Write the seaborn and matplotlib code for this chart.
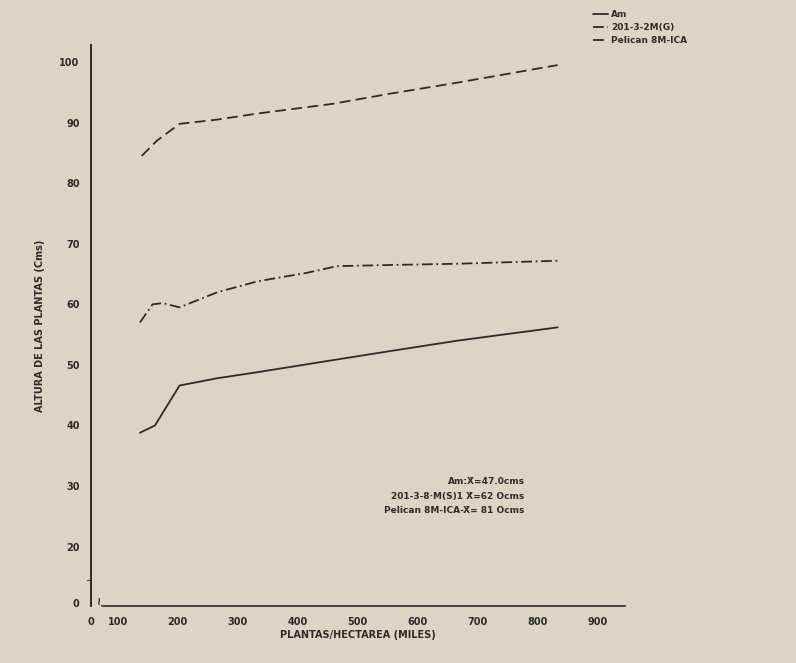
import numpy as np
import pandas as pd
import matplotlib
matplotlib.use("Agg")
from matplotlib import pyplot as plt
import seaborn as sns

# plantas/hectarea (miles) and altura (cms)
am_x = [137, 162, 203, 266, 333, 453, 555, 666, 833]
am_y = [38.8, 40.0, 46.6, 47.8, 48.8, 50.7, 52.3, 54.0, 56.2]

g201_x = [137, 158, 175, 203, 266, 333, 415, 465, 555, 666, 833]
g201_y = [57.0, 60.0, 60.2, 59.5, 62.0, 63.8, 65.2, 66.3, 66.5, 66.7, 67.2]

pel_x = [140, 165, 203, 266, 333, 458, 555, 666, 833]
pel_y = [84.5, 87.0, 89.8, 90.5, 91.5, 93.1, 94.8, 96.6, 99.5]

series_names = ["Am", "201-3-2M(G)", "Pelican 8M-ICA"]
y_ticks = [20, 30, 40, 50, 60, 70, 80, 90, 100]
x_ticks = [100, 200, 300, 400, 500, 600, 700, 800, 900]
notes = ["Am:X\u0304=47.0cms",
         "201-3-8·M(S)1 X\u0304=62 Ocms",
         "Pelican 8M-ICA-X\u0304= 81 Ocms"]

paper = "#dcd4c4"
ink = "#2e2c2a"

sns.set_style("white")
plt.rcParams["font.family"] = ["DejaVu Sans"]
plt.rcParams["font.weight"] = "bold"

df = pd.concat([
    pd.DataFrame({"x": am_x, "y": am_y, "serie": series_names[0]}),
    pd.DataFrame({"x": g201_x, "y": g201_y, "serie": series_names[1]}),
    pd.DataFrame({"x": pel_x, "y": pel_y, "serie": series_names[2]}),
])

fig = plt.figure(figsize=(7.96, 6.63), dpi=100, facecolor=paper)
ax = fig.add_axes([0.114, 0.086, 0.671, 0.846])
ax.set_facecolor(paper)

styles = {series_names[0]: "-", series_names[1]: (0, (6, 2, 1, 2)), series_names[2]: (0, (6, 3))}
for name, sub in df.groupby("serie", sort=False):
    sns.lineplot(data=sub, x="x", y="y", ax=ax, color=ink, lw=1.3,
                 linestyle=styles[name], label=name, legend=False)

# axes are broken near the origin: the "0" ticks sit just past the break
x0, y0 = 55, 10.7
ax.set_xlim(x0, 945)
ax.set_ylim(10.2, 102.8)
ax.set_xticks([x0] + x_ticks)
ax.set_yticks([y0] + y_ticks)
ax.set_xticklabels(["0"] + [str(v) for v in x_ticks], fontsize=7, color=ink, fontweight="bold")
ax.set_yticklabels(["0"] + [str(v) for v in y_ticks], fontsize=7, color=ink, fontweight="bold")
ax.tick_params(length=0, pad=8)

for s in ["top", "right"]:
    ax.spines[s].set_visible(False)
ax.spines["left"].set_color(ink)
ax.spines["bottom"].set_color(ink)
ax.spines["left"].set_linewidth(1.4)
ax.spines["bottom"].set_linewidth(1.2)
ax.spines["bottom"].set_bounds(74, 945)

# break marks
ax.text(67, y0 + 0.2, "\u2240", ha="center", va="center", fontsize=8, color=ink, clip_on=False)
ax.text(53, 14.6, "\u2240", ha="center", va="center", fontsize=6, color=ink, rotation=90, clip_on=False)

ax.set_xlabel("PLANTAS/HECTAREA (MILES)", fontsize=7, color=ink, fontweight="bold", labelpad=2)
ax.set_ylabel("ALTURA DE LAS PLANTAS (Cms)", fontsize=7, color=ink, fontweight="bold", labelpad=10)

for i, t in enumerate(notes):
    ax.text(778, 30.7 - i * 2.4, t, ha="right", va="center", fontsize=6.5, color=ink)

leg = fig.legend(handles=ax.get_lines(), labels=series_names, loc="upper left",
                 bbox_to_anchor=(0.735, 0.997), frameon=False, fontsize=6.5,
                 handlelength=1.6, labelspacing=0.45, handletextpad=0.4)
for t in leg.get_texts():
    t.set_color(ink)

fig.savefig("out.png", dpi=100, facecolor=paper)
